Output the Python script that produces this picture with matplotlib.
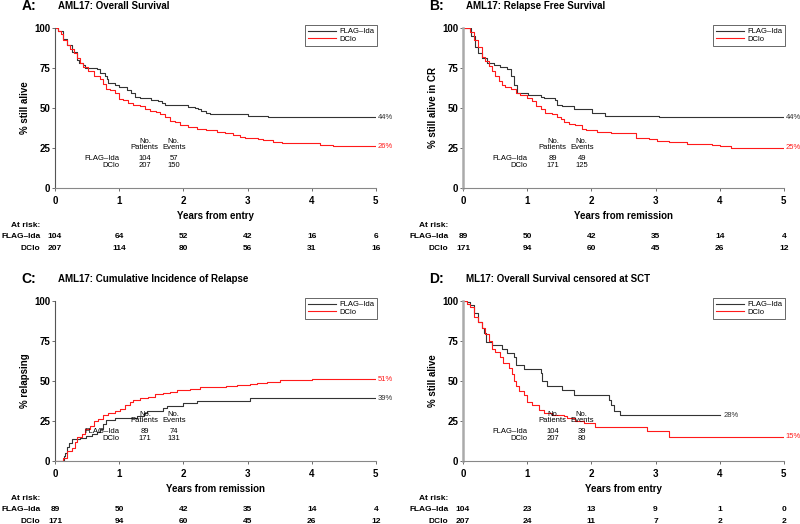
import matplotlib
matplotlib.use("Agg")
import matplotlib.pyplot as plt

plt.rcParams['font.family'] = ['Liberation Sans', 'DejaVu Sans']

# ---- data (time in years, percent) ----
years = [0, 1, 2, 3, 4, 5]
groups = ["FLAG–Ida", "DClo"]

os_flag = [(0, 100), (0.05, 98), (0.13, 93), (0.18, 89), (0.26, 85), (0.34, 80), (0.37, 78),
           (0.44, 77), (0.47, 75), (0.65, 74), (0.70, 72), (0.78, 70), (0.81, 68), (0.83, 65.5),
           (0.93, 64), (0.99, 63), (1.12, 61), (1.19, 59), (1.25, 57), (1.32, 56), (1.50, 55),
           (1.61, 54), (1.66, 53), (1.71, 51.5), (2.08, 50.8), (2.18, 50), (2.23, 49), (2.28, 48),
           (2.36, 47), (2.41, 46), (3.01, 45), (3.32, 44), (5.0, 44)]
os_dclo = [(0, 100), (0.05, 98), (0.10, 96), (0.13, 92), (0.18, 89), (0.23, 87), (0.29, 84),
           (0.34, 81), (0.39, 78), (0.44, 75.5), (0.52, 73), (0.60, 70), (0.70, 68), (0.75, 65),
           (0.80, 62), (0.86, 61), (0.93, 59), (0.99, 55.5), (1.06, 55), (1.14, 53), (1.22, 52),
           (1.32, 51), (1.40, 49), (1.48, 48), (1.58, 47.5), (1.63, 46), (1.71, 44), (1.79, 42),
           (1.87, 41), (1.95, 39), (2.08, 38), (2.21, 37), (2.36, 36), (2.52, 35), (2.65, 34),
           (2.78, 33), (2.88, 32), (2.96, 31), (3.17, 30.5), (3.24, 30), (3.40, 29), (3.53, 28),
           (4.13, 27), (4.34, 26), (5.0, 26)]

rfs_flag = [(0, 100), (0.12, 95), (0.19, 88), (0.24, 84), (0.30, 81), (0.37, 78), (0.48, 76.5),
            (0.58, 75.5), (0.69, 74), (0.74, 70), (0.79, 64), (0.84, 59.5), (0.97, 59), (1.02, 58),
            (1.21, 57), (1.26, 56), (1.44, 55), (1.47, 52), (1.54, 51), (1.73, 49), (2.01, 47),
            (2.06, 46.5), (2.22, 45), (3.05, 44), (5.0, 44)]
rfs_dclo = [(0, 100), (0.11, 97), (0.17, 92), (0.24, 88), (0.30, 82), (0.35, 79), (0.40, 76),
            (0.45, 73), (0.50, 70), (0.56, 67), (0.61, 64), (0.66, 63), (0.74, 62), (0.82, 59),
            (0.89, 58), (1.0, 56), (1.08, 54), (1.13, 51), (1.21, 49), (1.28, 47), (1.39, 46),
            (1.47, 44), (1.52, 43), (1.57, 41), (1.65, 40), (1.75, 39), (1.86, 37), (1.91, 36),
            (2.09, 35), (2.30, 34.5), (2.53, 34), (2.69, 31), (2.90, 30.5), (3.03, 29.5),
            (3.21, 29), (3.36, 28.5), (3.49, 27.5), (3.88, 27), (4.01, 26), (4.17, 25), (5.0, 25)]

cir_flag = [(0, 0), (0.12, 0), (0.14, 3), (0.16, 5), (0.18, 9), (0.21, 11.5), (0.26, 13.5),
            (0.39, 14.5), (0.49, 15.5), (0.57, 17), (0.65, 18), (0.70, 20), (0.75, 23),
            (0.80, 25.5), (0.93, 27), (1.27, 28), (1.38, 30), (1.43, 31.5), (1.69, 33),
            (1.74, 34), (2.0, 36), (2.21, 37.5), (3.04, 39), (5.0, 39)]
cir_dclo = [(0, 0), (0.12, 0), (0.13, 2), (0.18, 6), (0.26, 8), (0.31, 12), (0.34, 15),
            (0.42, 17), (0.47, 20), (0.55, 22), (0.60, 25), (0.67, 26), (0.75, 28.5), (0.83, 30),
            (0.93, 31.5), (1.01, 32.5), (1.09, 35), (1.17, 36.5), (1.22, 38), (1.32, 39),
            (1.45, 40), (1.56, 41.5), (1.69, 42.5), (1.79, 43), (1.90, 44), (2.10, 45),
            (2.26, 46), (2.67, 47), (2.83, 47.5), (3.04, 48), (3.14, 48.5), (3.30, 49.5),
            (3.50, 50.5), (4.0, 51), (5.0, 51)]

sct_flag = [(0, 100), (0.06, 99), (0.11, 97), (0.17, 92), (0.24, 87), (0.30, 83), (0.33, 80),
            (0.36, 74.5), (0.45, 72.5), (0.61, 70), (0.69, 67.5), (0.79, 65), (0.82, 60),
            (0.95, 57.5), (1.21, 55), (1.23, 50), (1.31, 47), (1.54, 44), (1.73, 41), (2.27, 38),
            (2.30, 35), (2.35, 31), (2.45, 28.5), (4.0, 28.5)]
sct_dclo = [(0, 100), (0.06, 98), (0.11, 96), (0.17, 90), (0.24, 87), (0.30, 83), (0.35, 79),
            (0.40, 75), (0.45, 70), (0.50, 68), (0.58, 65), (0.63, 61), (0.71, 58), (0.76, 54),
            (0.79, 50), (0.82, 47), (0.87, 43.5), (0.95, 41), (1.0, 37), (1.08, 35), (1.18, 32),
            (1.26, 30), (1.39, 29), (1.57, 28), (1.62, 27), (1.75, 25), (1.88, 23.5), (2.06, 21),
            (2.87, 18.5), (3.21, 15), (5.0, 15)]

# patients / events
counts_a = [(104, 57), (207, 150)]
counts_b = [(89, 49), (171, 125)]
counts_c = [(89, 74), (171, 131)]
counts_d = [(104, 39), (207, 80)]

# numbers at risk
risk_a = [[104, 64, 52, 42, 16, 6], [207, 114, 80, 56, 31, 16]]
risk_b = [[89, 50, 42, 35, 14, 4], [171, 94, 60, 45, 26, 12]]
risk_c = [[89, 50, 42, 35, 14, 4], [171, 94, 60, 45, 26, 12]]
risk_d = [[104, 23, 13, 9, 1, 0], [207, 24, 11, 7, 2, 2]]

# end labels: (x, y, text) for FLAG-Ida then DClo
ends_a = [(5.03, 44, "44%"), (5.03, 26, "26%")]
ends_b = [(5.03, 44, "44%"), (5.03, 25, "25%")]
ends_c = [(5.03, 39, "39%"), (5.03, 51, "51%")]
ends_d = [(4.06, 28.5, "28%"), (5.03, 15, "15%")]

BLACK = '#333333'
RED = '#ff1a1a'


def draw_panel(fig, rect, letter, title, ylabel, xlabel, flag, dclo, counts, risk, ends,
               thick_spine):
    ax = fig.add_axes(rect)
    for curve, col, lab in [(flag, BLACK, groups[0]), (dclo, RED, groups[1])]:
        t = [p[0] for p in curve]
        y = [p[1] for p in curve]
        ax.step(t, y, where='post', color=col, lw=0.8, label=lab)

    ax.set_xlim(0, 5)
    ax.set_ylim(0, 100)
    ax.set_xticks(years)
    ax.set_yticks([0, 25, 50, 75, 100])
    ax.tick_params(axis='both', labelsize=7, length=2.5, width=0.6, colors='#555555',
                   labelcolor='black')
    ax.tick_params(axis='x', pad=3)
    ax.tick_params(axis='y', pad=1)
    for lbl in ax.get_xticklabels() + ax.get_yticklabels():
        lbl.set_fontweight('bold')

    for s in ['top', 'right']:
        ax.spines[s].set_visible(False)
    ax.spines['bottom'].set_color('#888888')
    ax.spines['bottom'].set_linewidth(0.8)
    if thick_spine:
        ax.spines['left'].set_color('#aaaaaa')
        ax.spines['left'].set_linewidth(1.8)
    else:
        ax.spines['left'].set_color('#555555')
        ax.spines['left'].set_linewidth(0.8)

    ax.set_ylabel(ylabel, fontsize=7, fontweight='bold')
    ax.yaxis.set_label_coords(-0.078, 0.5)
    ax.set_xlabel(xlabel, fontsize=7, fontweight='bold')
    ax.xaxis.set_label_coords(0.5, -0.145)

    ax.text(-0.105, 1.133, letter, transform=ax.transAxes, fontsize=10, fontweight='bold',
            va='center', ha='left')
    ax.text(0.01, 1.135, title, transform=ax.transAxes, fontsize=7, fontweight='bold',
            va='center', ha='left')

    leg = ax.legend(loc='upper right', bbox_to_anchor=(1.004, 1.015), fontsize=5.5,
                    frameon=True, fancybox=False, edgecolor='#222222', handlelength=3.6,
                    handletextpad=0.5, labelspacing=0.05, borderpad=0.35, borderaxespad=0)
    leg.get_frame().set_linewidth(0.6)

    # patients / events table
    ax.text(1.40, 29, "No.", fontsize=5.5, ha='center', va='center')
    ax.text(1.40, 25, "Patients", fontsize=5.5, ha='center', va='center')
    ax.text(1.85, 29, "No.", fontsize=5.5, ha='center', va='center')
    ax.text(1.85, 25, "Events", fontsize=5.5, ha='center', va='center')
    for (n, e), g, yy in zip(counts, groups, [18.3, 14.1]):
        ax.text(1.0, yy, g, fontsize=5.5, ha='right', va='center')
        ax.text(1.40, yy, str(n), fontsize=5.5, ha='center', va='center')
        ax.text(1.85, yy, str(e), fontsize=5.5, ha='center', va='center')

    for (x, y, s), col in zip(ends, [BLACK, RED]):
        ax.text(x, y, s, fontsize=5.5, color=col, ha='left', va='center', clip_on=False)

    # at-risk table
    tr = ax.get_xaxis_transform()
    ax.text(-0.045, -0.235, "At risk:", transform=ax.transAxes, fontsize=6,
            fontweight='bold', ha='right', va='center')
    for row, g, yy in zip(risk, groups, [-0.305, -0.378]):
        ax.text(-0.045, yy, g, transform=ax.transAxes, fontsize=6, fontweight='bold',
                ha='right', va='center')
        for x, v in zip(years, row):
            ax.text(x, yy, str(v), transform=tr, fontsize=6, fontweight='bold',
                    ha='center', va='center')
    return ax


fig = plt.figure(figsize=(8, 5.24), dpi=100)
left_l, left_r, w = 0.0688, 0.5788, 0.401
top_row, bot_row, h = 0.6412, 0.1202, 0.306

draw_panel(fig, [left_l, top_row, w, h], "A:", "AML17: Overall Survival", "% still alive",
           "Years from entry", os_flag, os_dclo, counts_a, risk_a, ends_a, False)
draw_panel(fig, [left_r, top_row, w, h], "B:", "AML17: Relapse Free Survival",
           "% still alive in CR", "Years from remission", rfs_flag, rfs_dclo, counts_b,
           risk_b, ends_b, True)
draw_panel(fig, [left_l, bot_row, w, h], "C:", "AML17: Cumulative Incidence of Relapse",
           "% relapsing", "Years from remission", cir_flag, cir_dclo, counts_c, risk_c,
           ends_c, False)
draw_panel(fig, [left_r, bot_row, w, h], "D:", "ML17: Overall Survival censored at SCT",
           "% still alive", "Years from entry", sct_flag, sct_dclo, counts_d, risk_d,
           ends_d, True)

fig.savefig("out.png", dpi=100)
